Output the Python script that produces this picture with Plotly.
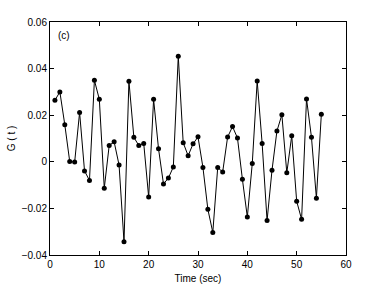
import plotly.graph_objects as go

time_sec = list(range(1, 56))
g_values = [
    0.0264, 0.0300, 0.0159, 0.0001, -0.0001, 0.0212, -0.0039, -0.0080, 0.0350, 0.0268,
    -0.0113, 0.0070, 0.0086, -0.0014, -0.0343, 0.0346, 0.0105, 0.0070, 0.0079, -0.0151,
    0.0268, 0.0056, -0.0095, -0.0070, -0.0022, 0.0453, 0.0082, 0.0026, 0.0077, 0.0107,
    -0.0024, -0.0204, -0.0303, -0.0024, -0.0044, 0.0106, 0.0151, 0.0102, -0.0075, -0.0237,
    -0.0007, 0.0347, 0.0079, -0.0252, -0.0036, 0.0132, 0.0202, -0.0047, 0.0112, -0.0169,
    -0.0247, 0.0270, 0.0105, -0.0156, 0.0204,
]
x_ticks = [0, 10, 20, 30, 40, 50, 60]
y_ticks = [-0.04, -0.02, 0, 0.02, 0.04, 0.06]
y_tick_labels = ["\u22120.04", "\u22120.02", "0", "0.02", "0.04", "0.06"]

font_family = "Liberation Sans, Arial, sans-serif"

fig = go.Figure()
fig.add_trace(go.Scatter(
    x=time_sec, y=g_values, mode="lines+markers",
    line=dict(color="black", width=1),
    marker=dict(color="black", size=5),
    showlegend=False,
))

axis_common = dict(
    showline=True, linecolor="black", linewidth=1, mirror="ticks",
    ticks="inside", ticklen=4, tickcolor="black", tickwidth=1,
    showgrid=False, zeroline=False, automargin=False,
    tickfont=dict(family=font_family, size=10, color="black"),
)

fig.update_layout(
    width=382, height=287,
    margin=dict(l=50, r=36, t=22, b=32, autoexpand=False),
    paper_bgcolor="white", plot_bgcolor="white",
    xaxis=dict(range=[0, 60], tickvals=x_ticks,
               title=dict(text="Time (sec)", font=dict(family=font_family, size=10, color="black"), standoff=5),
               **axis_common),
    yaxis=dict(range=[-0.04, 0.06], tickvals=y_ticks, ticktext=y_tick_labels,
               title=dict(text="G ( t )", font=dict(family=font_family, size=10, color="black"), standoff=4),
               **axis_common),
    annotations=[dict(text="(c)", x=0.02, y=0.975, xref="paper", yref="paper",
                      xanchor="left", yanchor="top", showarrow=False,
                      font=dict(family=font_family, size=10, color="black"))],
)

fig.write_html("out.html", config={"displayModeBar": False},
               post_script="document.body.style.margin='0';")
